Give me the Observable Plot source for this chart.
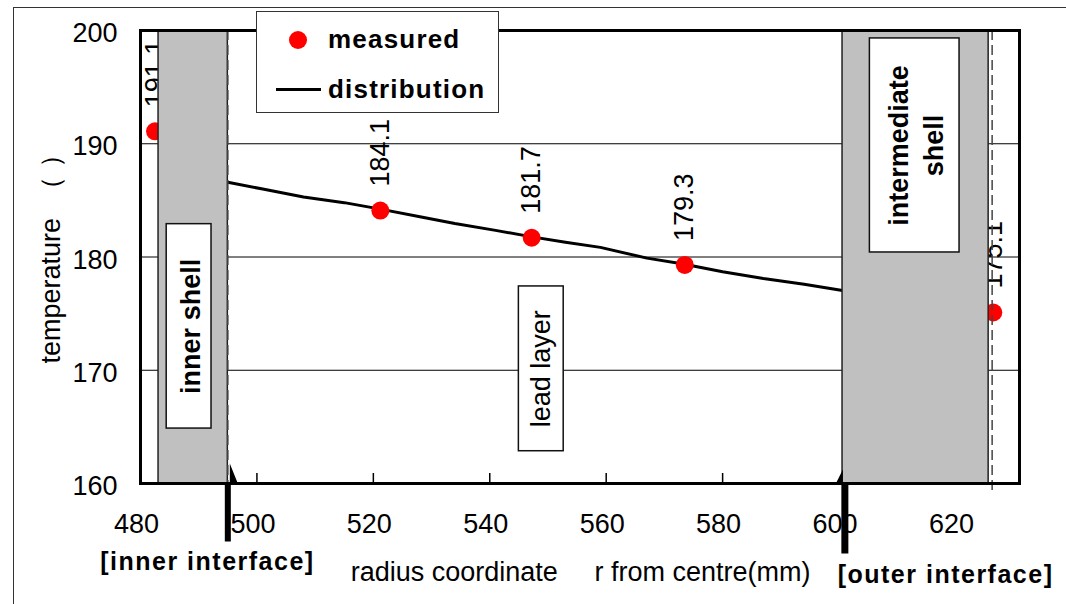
<!DOCTYPE html>
<html><head><meta charset="utf-8">
<script src="https://cdn.jsdelivr.net/npm/d3@7"></script>
<script src="https://cdn.jsdelivr.net/npm/@observablehq/plot@0.6"></script>
<style>
html,body{margin:0;padding:0;background:#fff;}
#wrap{position:relative;width:1066px;height:604px;overflow:hidden;font-family:"Liberation Sans",Arial,sans-serif;}
#wrap svg{position:absolute;left:0;top:0;}
#outer{position:absolute;left:13px;top:7px;width:1200px;height:800px;border:1.5px solid #333;pointer-events:none;}
#legend{position:absolute;left:256px;top:11px;width:241px;height:100px;border:1.5px solid #333;background:#fff;}
#legend .dot{position:absolute;left:32px;top:19px;width:18px;height:18px;border-radius:50%;background:#ff0000;}
#legend .ln{position:absolute;left:19px;top:76px;width:45px;height:3px;background:#000;}
#legend .lab{position:absolute;left:71px;font-weight:bold;font-size:26px;letter-spacing:1.2px;line-height:28px;color:#000;}
</style>
</head><body>
<div id="wrap">
  <div id="chart"></div>
  <div id="outer"></div>
  <div id="legend">
    <div class="dot"></div><div class="lab" style="top:13px">measured</div>
    <div class="ln"></div><div class="lab" style="top:63px">distribution</div>
  </div>
</div>
<script>
// ---- data ----
const xTicks = [480, 500, 520, 540, 560, 580, 600, 620];
const yTicks = [160, 170, 180, 190, 200];
const gridY = [170, 180, 190];
const innerTicksX = [500, 520, 540, 560, 580];

const measuredX = [482.5, 521.2, 547.2, 573.5, 626.5];
const measuredT = [191.1, 184.1, 181.7, 179.3, 175.1];

const distX = [495, 501, 508, 515, 521, 528, 534, 541, 547, 553, 559, 567, 573, 580, 587, 594, 600.6];
const distT = [186.6, 186.0, 185.3, 184.8, 184.25, 183.55, 182.95, 182.35, 181.8, 181.3, 180.85, 179.9, 179.4, 178.7, 178.1, 177.6, 177.05];

const bandNames = ["inner shell", "intermediate shell"];
const bandX1 = [483.1, 600.6];
const bandX2 = [495, 625.7];

const dashedX = [495, 626.3];

const boxLabels = ["inner shell", "lead layer", "intermediate\nshell"];
const boxBold = [true, false, true];
const boxX1 = [484.5, 545.0, 605.3];
const boxX2 = [492.2, 552.7, 620.7];
const boxY1 = [164.85, 162.85, 180.4];
const boxY2 = [182.9, 177.4, 199.3];

const interfaceNames = ["inner", "outer"];
const interfaceX = [495, 601];
const interfaceLabels = ["[inner interface]", "[outer interface]"];
const interfaceLabelX = [491.5, 618.3];

const xTitleParts = ["radius coordinate", "r from centre(mm)"];
const xTitleX = [516.1, 558.0];
const yTitle = "temperature\u00a0\u00a0（\u00a0）";

// ---- tables ----
const measured = measuredX.map((x, i) => ({x, t: measuredT[i]}));
const dist = distX.map((x, i) => ({x, t: distT[i]}));
const bands = bandNames.map((n, i) => ({n, x1: bandX1[i], x2: bandX2[i]}));
const boxes = boxLabels.map((l, i) => ({l, bold: boxBold[i], x1: boxX1[i], x2: boxX2[i], y1: boxY1[i], y2: boxY2[i]}));
const interfaces = interfaceNames.map((n, i) => ({n, x: interfaceX[i], label: interfaceLabels[i], lx: interfaceLabelX[i]}));
const xTitle = xTitleParts.map((s, i) => ({s, x: xTitleX[i]}));

const innerSymbol = {draw(ctx) {
  ctx.moveTo(-3, 0); ctx.lineTo(3, 0); ctx.lineTo(3, 58); ctx.lineTo(-3, 58); ctx.closePath();
  ctx.moveTo(2, -20); ctx.lineTo(10, 0); ctx.lineTo(2, 0); ctx.closePath();
}};
const outerSymbol = {draw(ctx) {
  ctx.moveTo(-3.5, 0); ctx.lineTo(3.5, 0); ctx.lineTo(3.5, 70); ctx.lineTo(-3.5, 70); ctx.closePath();
  ctx.moveTo(-2, -14); ctx.lineTo(-9, 0); ctx.lineTo(-2, 0); ctx.closePath();
}};

const FONT = "Liberation Sans, Arial, sans-serif";
const FS = 27;

const chart = Plot.plot({
  width: 1066, height: 604,
  marginLeft: 140, marginRight: 47, marginTop: 30, marginBottom: 121,
  style: {fontFamily: FONT, fontSize: FS + "px", color: "#000", background: "transparent", overflow: "visible"},
  x: {domain: [480, 631]},
  y: {domain: [160, 200]},
  marks: [
    Plot.ruleY(gridY, {stroke: "#000", strokeWidth: 1}),
    Plot.ruleX(innerTicksX, {stroke: "#000", strokeWidth: 1.5, insetTop: 443}),
    Plot.line(dist, {x: "x", y: "t", stroke: "#000", strokeWidth: 3}),
    Plot.dot(measured, {x: "x", y: "t", r: 9, fill: "#ff0000", stroke: "none"}),
    Plot.text(measured, {x: "x", y: "t", text: d => d.t.toFixed(1), rotate: -90, textAnchor: "start", lineAnchor: "middle", dy: -24, fontSize: FS, fill: "#000"}),
    Plot.rect(bands, {x1: "x1", x2: "x2", y1: 160, y2: 200, fill: "#c0c0c0", stroke: "#222", strokeWidth: 1.5}),
    Plot.ruleX(dashedX, {stroke: "#444", strokeWidth: 1.5, strokeDasharray: "10,5", insetBottom: -8}),
    Plot.frame({stroke: "#000", strokeWidth: 3}),
    Plot.rect(boxes, {x1: "x1", x2: "x2", y1: "y1", y2: "y2", fill: "#fff", stroke: "#111", strokeWidth: 1.5}),
    Plot.text(boxes.filter(d => d.bold), {x: d => (d.x1 + d.x2) / 2, y: d => (d.y1 + d.y2) / 2, text: "l", rotate: -90, fontSize: FS, fontWeight: "bold", lineHeight: 1.3, fill: "#000"}),
    Plot.text(boxes.filter(d => !d.bold), {x: d => (d.x1 + d.x2) / 2, y: d => (d.y1 + d.y2) / 2, text: "l", rotate: -90, fontSize: FS, fill: "#000"}),
    Plot.dot(interfaces.filter(d => d.n === "inner"), {x: "x", y: 160, symbol: innerSymbol, fill: "#000", stroke: "none"}),
    Plot.dot(interfaces.filter(d => d.n === "outer"), {x: "x", y: 160, symbol: outerSymbol, fill: "#000", stroke: "none"}),
    Plot.axisY(yTicks, {tickSize: 0, tickPadding: 23, fontSize: FS, dy: 3, label: null}),
    Plot.axisX(xTicks, {tickSize: 0, tickPadding: 30.5, fontSize: FS, dx: -4, label: null}),
    Plot.text([yTitle], {frameAnchor: "left", dx: -89, dy: 106.5, textAnchor: "start", rotate: -90, text: d => d, fontSize: FS, fill: "#000"}),
    Plot.text(xTitle, {x: "x", frameAnchor: "bottom", dy: 89, text: "s", textAnchor: "start", lineAnchor: "middle", fontSize: FS, fill: "#000"}),
    Plot.text(interfaces.filter(d => d.n === "inner"), {x: "lx", frameAnchor: "bottom", dy: 86, text: "label", fontSize: 25, fontWeight: "bold", fill: "#000"}),
    Plot.text(interfaces.filter(d => d.n === "outer"), {x: "lx", frameAnchor: "bottom", dy: 99, text: "label", fontSize: 25, fontWeight: "bold", fill: "#000"})
  ]
});
d3.select(chart).selectAll("text")
  .filter(function() { return this.textContent.startsWith("["); })
  .attr("letter-spacing", 1.5);
document.getElementById("chart").appendChild(chart);
</script>
</body></html>
